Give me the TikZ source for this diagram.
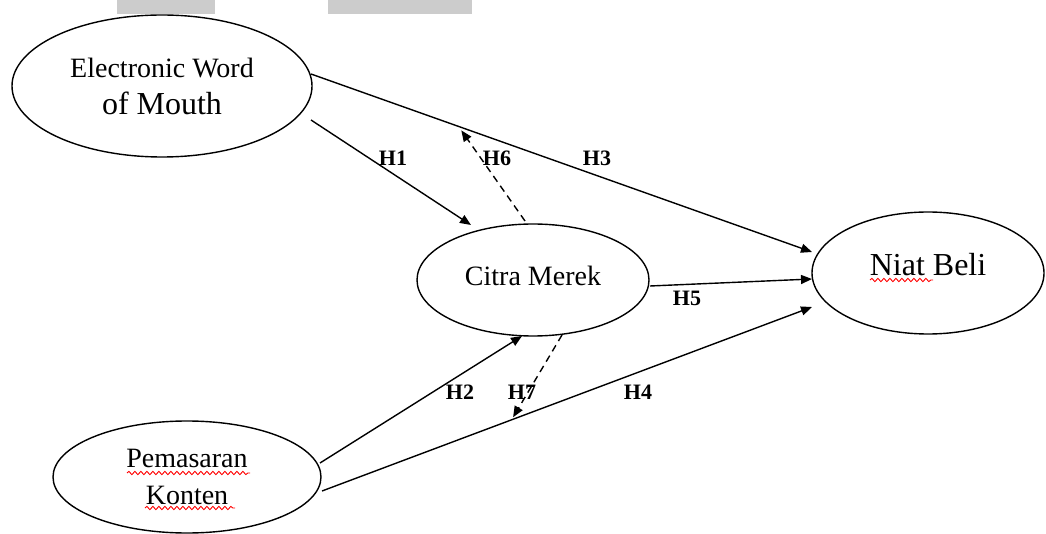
\documentclass[tikz,border=0pt]{standalone}
\usepackage{fontspec}
\setmainfont{Liberation Serif}
\usetikzlibrary{shapes.geometric,arrows.meta,decorations.pathmorphing,calc}
\begin{document}
\begin{tikzpicture}[x=1pt,y=-1pt,
  var/.style={ellipse,draw,line width=1.4pt,inner sep=0pt,align=center},
  arr/.style={line width=1.4pt,-{Triangle[length=11pt,width=9pt]}},
  dsh/.style={arr,dash pattern=on 7pt off 5pt},
  hlab/.style={font=\fontsize{22}{26}\selectfont\bfseries,inner sep=0pt},
  squig/.style={draw=red,line width=0.9pt,decorate,decoration={snake,segment length=6pt,amplitude=1.6pt}},
  wm/.style={fill=black!20,draw=none}]
\useasboundingbox (0,0) rectangle (1046,534);
% watermark remnants
\fill[wm] (117,0) rectangle (215,14);
\fill[wm] (328,0) rectangle (472,14);
% variables
\node[var,minimum width=300pt,minimum height=142pt,font=\fontsize{28}{37}\selectfont] (ewom) at (162,86)
  {Electronic Word\\{\fontsize{32}{37}\selectfont of Mouth}};
\node[var,minimum width=232pt,minimum height=112pt,font=\fontsize{28}{34}\selectfont] (cm) at (533,280) {\raisebox{4pt}[\height][\depth]{Citra Merek}};
\node[var,minimum width=232pt,minimum height=122pt,font=\fontsize{32}{38}\selectfont] (nb) at (928,273) {\raisebox{8pt}[\height][\depth]{Niat Beli}};
\node[var,minimum width=268pt,minimum height=112pt,font=\fontsize{28}{37}\selectfont] (pk) at (187,477) {Pemasaran\\Konten};
% spell-check squiggles
\draw[squig] (870,280) -- (933,280);
\draw[squig] (127,473) -- (250,473);
\draw[squig] (145,508) -- (235,508);
% helper coordinates
\coordinate (h3s) at ([shift={(149,-12)}]ewom.center);
\coordinate (h3e) at ([shift={(-116,-21)}]nb.center);
\coordinate (h4s) at ([shift={(135,14)}]pk.center);
\coordinate (h4e) at ([shift={(-116,34)}]nb.center);
% connectors
\draw[arr] (h3s) -- (h3e);
\draw[arr] ([shift={(149,34)}]ewom.center) -- ([shift={(-62,-55)}]cm.center);
\draw[dsh] ([shift={(-8,-59)}]cm.center) -- ($(h3s)!0.3!(h3e)+(0,3)$);
\draw[arr] ([shift={(117,6)}]cm.center) -- ([shift={(-116,6)}]nb.center);
\draw[arr] ([shift={(133,-14)}]pk.center) -- ([shift={(-11,56)}]cm.center);
\draw[arr] (h4s) -- (h4e);
\draw[dsh] ([shift={(29,55)}]cm.center) -- ($(h4s)!0.39!(h4e)+(0,-2)$);
% labels
\node[hlab] (l1) at (393,158) {H1};
\node[hlab] (l6) at (497,158) {H6};
\node[hlab] (l3) at (597,158) {H3};
\node[hlab] (l5) at (687,298) {H5};
\node[hlab] (l2) at (460,392) {H2};
\node[hlab] (l7) at (522,392) {H7};
\node[hlab] (l4) at (638,392) {H4};
\end{tikzpicture}
\end{document}
